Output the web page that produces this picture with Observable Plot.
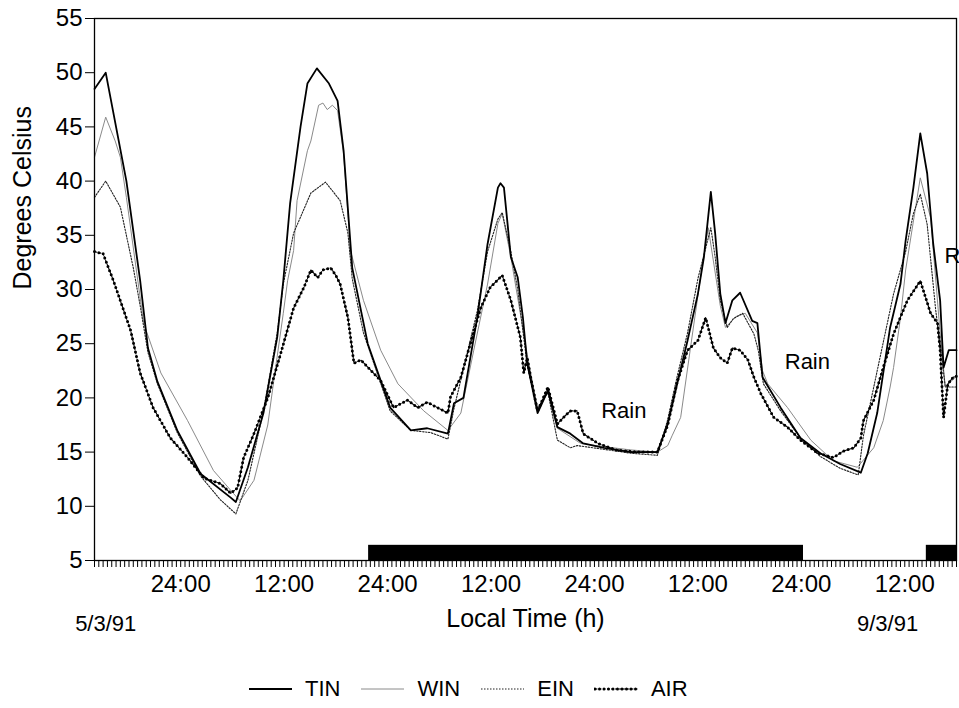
<!DOCTYPE html>
<html><head><meta charset="utf-8">
<script src="https://cdn.jsdelivr.net/npm/d3@7"></script>
<script src="https://cdn.jsdelivr.net/npm/@observablehq/plot@0.6"></script>
<style>
body{margin:0;background:#fff;font-family:"Liberation Sans",Arial,sans-serif;}
#wrap{position:relative;width:959px;height:708px;overflow:hidden;}
#legend{position:absolute;left:248px;top:675px;display:flex;align-items:center;font-size:22px;color:#000;line-height:28px;}
#legend .item{display:flex;align-items:center;margin-right:20px;}
#legend svg{margin-right:12px;}
</style></head><body><div id="wrap"></div>
<script>
// hours since 14:00 on 5/3/91
const tinHours = [0,1.3,3.7,5.3,6.2,7.3,9.6,12.3,15.8,16.4,17.8,19.6,21.2,21.9,22.7,23.9,24.7,25.8,27.2,28.2,28.9,29.9,31.7,34.3,36.7,38.6,41.0,41.7,42.8,44.4,45.6,46.8,47.1,47.5,48.3,49.1,49.7,50.2,51.4,52.6,53.7,55.2,56.7,59.1,62.2,65.3,66.5,67.6,68.8,70.0,70.7,71.5,72.0,72.6,73.2,74.0,74.9,76.3,76.9,77.5,79.6,81.9,84.2,86.5,88.9,89.7,90.8,92.3,93.5,94.1,95.0,95.8,96.6,97.3,98.1,98.5,99.1,100];
const tinTemps = [48.5,50,40,30.8,24.6,21.5,17,13,10.8,10.4,13.6,18.6,25.6,30.8,38,45,49,50.4,49,47.4,42.8,32,25,19.1,17,17.2,16.7,19.5,20,27.4,34.2,39.4,39.8,39.4,33,31.1,27.4,23.2,18.6,20.7,17.3,16.7,15.8,15.4,15,15,17.6,21.3,25.3,29.6,33,39,35.2,29.6,26.9,29,29.7,27.1,26.9,21.9,19.1,16.3,14.9,13.9,13.1,14.9,18.6,26.5,30.5,34.5,39.4,44.4,40.7,34.2,29,22.8,24.4,24.4];

const winHours = [0,1.3,2.4,3.0,3.7,5.7,7.7,10.8,13.8,16.1,16.9,18.5,20.1,20.8,21.9,22.4,23.1,23.5,24.7,25.1,26.0,26.5,27.0,27.6,28.2,28.9,29.7,31.2,33.2,35.2,38.2,41.0,42.5,44.0,45.6,46.8,47.3,48.3,50.2,51.4,52.6,53.7,56.4,59.1,62.2,65.3,66.5,67.0,68.0,69.1,70.3,71.2,72.6,73.2,74.4,75.5,76.9,77.5,78.1,80.4,83.1,85.7,88.5,90.4,91.5,92.3,92.7,93.5,94.1,95.8,97.0,98.1,98.7,100];
const winTemps = [42.2,45.9,43.7,42.2,38.5,26.9,22.3,17.9,13.3,11.2,10.5,12.4,17.5,21.6,27.8,30.8,33.6,38.2,42.8,43.7,47,47.2,46.6,47.0,46.5,42.5,33.6,29,24.4,21.3,18.8,17,18.6,24.4,30.5,36.1,37,33,24,19,20.5,17.2,15.8,15.5,15.2,15,15.6,16.5,18.2,24.4,31.1,35.7,28.5,26.5,27.5,27.8,26,22.5,21.3,19.1,16.1,14.2,13.6,15.4,17.9,21,22.8,27.4,31.8,40.3,36.6,26,21,22];

const einHours = [0,1.3,3.0,4.5,5.3,6.2,7.3,9.6,12.3,14.6,16.4,17.8,19.6,21.2,21.9,23.1,25.1,26.8,28.5,29.4,29.9,31.2,34.3,36.7,39.0,41.0,41.7,44.4,45.6,46.8,47.3,48.3,49.1,50.2,51.4,52.6,53.7,55.2,56.0,58.7,62.2,65.3,66.5,67.6,68.8,70.0,71.5,72.0,72.6,73.4,74.1,75.2,76.5,77.0,77.6,79.6,81.9,84.2,86.5,88.6,89.2,90.0,91.2,92.7,94.1,95.0,95.8,96.6,97.6,98.1,98.7,100];
const einTemps = [38.5,40,37.6,32,28.5,24.2,21.3,16.8,12.8,10.6,9.3,12.4,18.8,26,30.5,35.2,38.9,39.9,38.2,35.2,31,26,18.8,17,16.8,16.2,19,28,33.5,36.5,37.1,33.5,30,23,19,20.5,16.1,15.4,15.6,15.3,14.9,14.7,18,22,26,31,35.7,33,29,26.5,27.3,27.8,25.9,24.4,21.3,18.8,16.3,14.6,13.5,12.9,16.5,19.5,24,29.6,33.5,37,38.8,36,28,25,21,21];

const airHours = [0,1.0,2.2,4.2,5.3,6.8,8.8,10.8,12.7,14.6,15.8,16.6,17.3,18.5,20.1,21.6,23.1,24.3,25.1,25.9,26.5,27.4,28.0,28.5,29.4,30.1,30.9,33.2,34.7,36.3,37.5,38.6,39.8,41.0,41.3,42.5,43.6,44.8,45.9,47.3,48.3,49.4,49.8,50.2,50.6,51.4,52.6,53.7,54.4,55.2,56.0,56.7,58.4,60.5,63.0,65.3,66.5,67.6,68.8,70.0,70.9,71.8,72.6,73.4,74.0,74.9,75.8,76.5,77.3,78.8,80.4,81.9,83.9,85.7,86.9,88.1,88.9,89.2,90.4,91.5,92.7,94.3,95.8,97.0,97.8,98.1,98.5,99.0,99.6,100];
const airTemps = [33.5,33.3,30.8,26.2,22.3,19.1,16.3,14.5,12.6,12.1,11.2,11.7,14.5,16.7,20,24.1,28.3,30.2,31.8,31.1,31.8,32,31.3,30.5,27.4,23.2,23.5,21.6,19.1,19.8,19.1,19.6,19.1,18.6,20.1,21.9,25,28.3,30.2,31.3,29,25.6,22.3,23.7,21.9,18.8,21,17.6,18.2,18.8,18.8,16.7,15.8,15.2,15,15,17.5,21.5,24.4,25.3,27.4,24.6,23.7,23.2,24.6,24.4,23.5,21.9,20.4,18.2,17.3,16.1,14.9,14.5,15.1,15.4,16.3,17.9,19.8,22.8,25.9,29,30.8,27.8,26.9,24.4,18.2,21.3,21.9,22];

// rain periods (bars along the time axis)
const rainStart = [31.8, 96.5];
const rainEnd = [82.25, 100];
const rainBarBase = 5, rainBarTop = 6.4;

// "Rain" annotations (the last one is cut by the frame in the original: only "R" shows)
const rainLabelText = ["Rain", "Rain", "R"];
const rainLabelHour = [61.4, 82.7, 98.6];
const rainLabelTemp = [18.8, 23.3, 33.1];
const rainLabelAnchor = ["middle", "middle", "start"];

// axis ticks
const yTicks = d3.range(5, 56, 5);
const minorTicks = d3.range(0, 100.001, 0.5);
const labelHours = [10, 22, 34, 46, 58, 70, 82, 94];
const labelText = ["24:00", "12:00", "24:00", "12:00", "24:00", "12:00", "24:00", "12:00"];
const dateLabels = ["5/3/91", "9/3/91"];
const dateHours = [1.3, 92];

const seriesNames = ["TIN", "WIN", "EIN", "AIR"];

const mk = (h, t) => h.map((x, i) => ({h: x, t: t[i]}));
const tin = mk(tinHours, tinTemps), win = mk(winHours, winTemps), ein = mk(einHours, einTemps), air = mk(airHours, airTemps);
const rain = rainStart.map((s, i) => ({s, e: rainEnd[i]}));
const rainLabels = rainLabelText.map((t, i) => ({t, h: rainLabelHour[i], v: rainLabelTemp[i], a: rainLabelAnchor[i]}));

const chart = Plot.plot({
  width: 959, height: 650,
  marginLeft: 94, marginRight: 3, marginTop: 18, marginBottom: 90,
  style: {fontFamily: "'Liberation Sans', Arial, sans-serif", color: "#000", background: "#fff"},
  x: {domain: [0, 100]},
  y: {domain: [5, 55]},
  marks: [
    Plot.rect(rain, {x1: "s", x2: "e", y1: () => rainBarBase, y2: () => rainBarTop, fill: "#000"}),
    Plot.line(win, {x: "h", y: "t", stroke: "#8a8a8a", strokeWidth: 1}),
    Plot.line(ein, {x: "h", y: "t", stroke: "#222", strokeWidth: 1.1, strokeDasharray: "1.5,1.5"}),
    Plot.line(air, {x: "h", y: "t", stroke: "#000", strokeWidth: 1.1, strokeDasharray: "2.5,1.5"}),
    Plot.line(air, {x: "h", y: "t", stroke: "#000", strokeWidth: 3, strokeDasharray: "0,4.5", strokeLinecap: "round"}),
    Plot.line(tin, {x: "h", y: "t", stroke: "#000", strokeWidth: 1.8}),
    Plot.axisX(minorTicks, {tickSize: 7, tickFormat: () => "", label: null}),
    Plot.axisX(labelHours, {tickSize: 0, tickPadding: 14, fontSize: 24, tickFormat: (d) => labelText[labelHours.indexOf(d)], label: null}),
    Plot.axisY(yTicks, {tickSize: 9, tickPadding: 3, fontSize: 24, label: null}),
    Plot.text(["Degrees Celsius"], {frameAnchor: "left", dx: -72, rotate: -90, fontSize: 25}),
    Plot.text(["Local Time (h)"], {frameAnchor: "bottom", dy: 66, fontSize: 25}),
    Plot.text(dateLabels, {x: (d, i) => dateHours[i], frameAnchor: "bottom", dy: 70, fontSize: 22}),
    Plot.text(rainLabels.filter(d => d.a === "middle"), {x: "h", y: "v", text: "t", fontSize: 22}),
    Plot.text(rainLabels.filter(d => d.a === "start"), {x: "h", y: "v", text: "t", textAnchor: "start", fontSize: 22}),
    Plot.frame({stroke: "#000", strokeWidth: 1.3})
  ]
});
const wrap = document.getElementById("wrap");
wrap.appendChild(chart);

// legend
const styles = {
  TIN: [{stroke: "#000", w: 1.8, dash: null}],
  WIN: [{stroke: "#8a8a8a", w: 1, dash: null}],
  EIN: [{stroke: "#222", w: 1.1, dash: "1.5,1.5"}],
  AIR: [{stroke: "#000", w: 1.1, dash: "2.5,1.5"}, {stroke: "#000", w: 3, dash: "0,4.5", cap: "round"}]
};
const legend = document.createElement("div");
legend.id = "legend";
for (const name of seriesNames) {
  const item = document.createElement("div");
  item.className = "item";
  let lines = styles[name].map(s => `<line x1="1" x2="44" y1="6" y2="6" stroke="${s.stroke}" stroke-width="${s.w}"${s.dash ? ` stroke-dasharray="${s.dash}"` : ""}${s.cap ? ` stroke-linecap="${s.cap}"` : ""}/>`).join("");
  item.innerHTML = `<svg width="45" height="12">${lines}</svg><span>${name}</span>`;
  legend.appendChild(item);
}
wrap.appendChild(legend);
</script>
</body></html>
